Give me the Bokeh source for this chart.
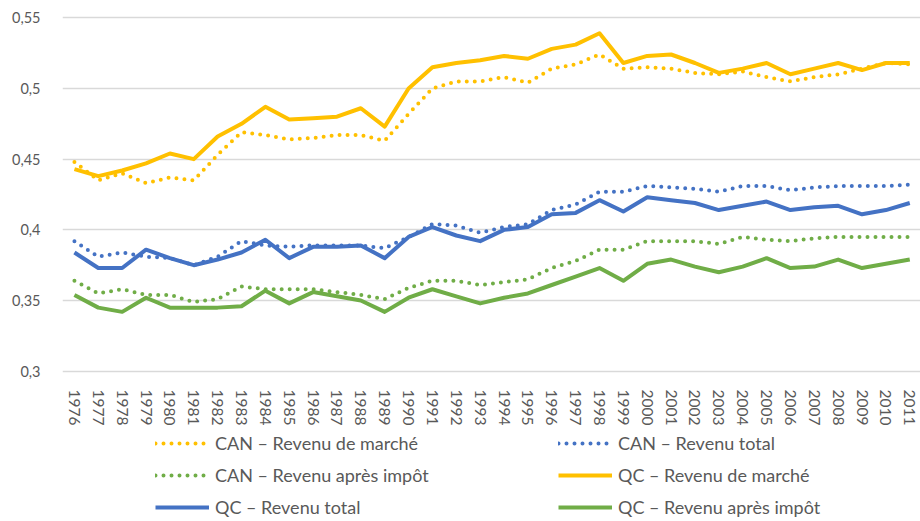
from bokeh.plotting import figure
from bokeh.layouts import column
from bokeh.models import Legend, LegendItem, FixedTicker, CustomJSTickFormatter, Range1d
from bokeh.embed import file_html
from bokeh.resources import INLINE

years = list(range(1976, 2012))

can_marche = [0.448, 0.435, 0.440, 0.433, 0.437, 0.435, 0.453, 0.469, 0.467, 0.464, 0.465, 0.467,
              0.467, 0.463, 0.482, 0.500, 0.505, 0.505, 0.508, 0.504, 0.514, 0.517, 0.524, 0.514,
              0.515, 0.514, 0.511, 0.510, 0.512, 0.508, 0.505, 0.508, 0.510, 0.514, 0.518, 0.517]
can_total = [0.392, 0.381, 0.384, 0.381, 0.380, 0.375, 0.381, 0.392, 0.389, 0.388, 0.389, 0.389,
             0.389, 0.387, 0.395, 0.404, 0.403, 0.398, 0.402, 0.404, 0.414, 0.418, 0.427, 0.427,
             0.431, 0.430, 0.429, 0.427, 0.431, 0.431, 0.428, 0.430, 0.431, 0.431, 0.431, 0.432]
can_apres = [0.364, 0.355, 0.358, 0.354, 0.354, 0.349, 0.351, 0.360, 0.358, 0.358, 0.358, 0.356,
             0.354, 0.351, 0.359, 0.364, 0.364, 0.361, 0.363, 0.365, 0.373, 0.378, 0.386, 0.386,
             0.392, 0.392, 0.392, 0.390, 0.395, 0.393, 0.392, 0.394, 0.395, 0.395, 0.395, 0.395]
qc_marche = [0.443, 0.438, 0.442, 0.447, 0.454, 0.450, 0.466, 0.475, 0.487, 0.478, 0.479, 0.480,
             0.486, 0.473, 0.500, 0.515, 0.518, 0.520, 0.523, 0.521, 0.528, 0.531, 0.539, 0.518,
             0.523, 0.524, 0.518, 0.511, 0.514, 0.518, 0.510, 0.514, 0.518, 0.513, 0.518, 0.518]
qc_total = [0.384, 0.373, 0.373, 0.386, 0.380, 0.375, 0.379, 0.384, 0.393, 0.380, 0.388, 0.388,
            0.389, 0.380, 0.395, 0.402, 0.396, 0.392, 0.400, 0.402, 0.411, 0.412, 0.421, 0.413,
            0.423, 0.421, 0.419, 0.414, 0.417, 0.420, 0.414, 0.416, 0.417, 0.411, 0.414, 0.419]
qc_apres = [0.354, 0.345, 0.342, 0.352, 0.345, 0.345, 0.345, 0.346, 0.357, 0.348, 0.356, 0.353,
            0.350, 0.342, 0.352, 0.358, 0.353, 0.348, 0.352, 0.355, 0.361, 0.367, 0.373, 0.364,
            0.376, 0.379, 0.374, 0.370, 0.374, 0.380, 0.373, 0.374, 0.379, 0.373, 0.376, 0.379]

y_ticks = [0.3, 0.35, 0.4, 0.45, 0.5, 0.55]

labels = ["CAN – Revenu de marché", "CAN – Revenu total", "CAN – Revenu après impôt",
          "QC – Revenu de marché", "QC – Revenu total", "QC – Revenu après impôt"]

YELLOW = "#FFC000"
BLUE = "#4472C4"
GREEN = "#70AD47"
TXT = "#595959"
FONT = "Lato"

series = [
    (can_marche, YELLOW, "dotted"),
    (can_total, BLUE, "dotted"),
    (can_apres, GREEN, "dotted"),
    (qc_marche, YELLOW, "solid"),
    (qc_total, BLUE, "solid"),
    (qc_apres, GREEN, "solid"),
]


def style_kwargs(col, style):
    if style == "dotted":
        return dict(line_color=col, line_width=4, line_dash="0 8", line_cap="round", line_join="round")
    return dict(line_color=col, line_width=4, line_join="round")


# ---- main chart ----
p = figure(frame_width=858, frame_height=362, output_backend="svg", toolbar_location=None,
           x_range=Range1d(1975.5, 2011.45), y_range=Range1d(0.297, 0.553),
           min_border_left=62, min_border_right=0, min_border_top=13, min_border_bottom=55)
p.outline_line_color = None
p.background_fill_color = "white"

for vals, col, style in series:
    p.line(years, vals, **style_kwargs(col, style))

p.xaxis.ticker = FixedTicker(ticks=years)
p.xaxis.major_label_orientation = "vertical"
p.xaxis.axis_line_color = None
p.xaxis.major_tick_line_color = None
p.xaxis.minor_tick_line_color = None
p.xaxis.major_label_standoff = 8
p.xaxis.major_label_text_font = FONT
p.xaxis.major_label_text_font_size = "15.5px"
p.xaxis.major_label_text_color = TXT

p.yaxis.ticker = FixedTicker(ticks=y_ticks)
p.yaxis.formatter = CustomJSTickFormatter(
    code="var s = tick.toFixed(2); s = s.replace(/0+$/, ''); return s.replace('.', ',');")
p.yaxis.axis_line_color = None
p.yaxis.major_tick_line_color = None
p.yaxis.minor_tick_line_color = None
p.yaxis.major_label_standoff = 16
p.yaxis.major_label_text_font = FONT
p.yaxis.major_label_text_font_size = "14.5px"
p.yaxis.major_label_text_color = TXT

p.xgrid.grid_line_color = None
p.ygrid.ticker = FixedTicker(ticks=y_ticks)
p.ygrid.grid_line_color = "#D9D9D9"
p.ygrid.grid_line_width = 1.5

# ---- legend strip (series drawn outside its visible range; only the legend shows) ----
pl = figure(width=920, height=91, output_backend="svg", toolbar_location=None,
            x_range=Range1d(0, 1), y_range=Range1d(0, 1),
            x_axis_location=None, y_axis_location=None,
            min_border_left=0, min_border_right=0, min_border_top=0, min_border_bottom=0)
pl.outline_line_color = None
pl.xgrid.grid_line_color = None
pl.ygrid.grid_line_color = None

items = []
for (vals, col, style), lab in zip(series, labels):
    r = pl.line(years, vals, **style_kwargs(col, style))
    items.append(LegendItem(label=lab, renderers=[r]))

legend = Legend(items=items, ncols=2, location=(93, 3), orientation="horizontal")
legend.border_line_color = None
legend.background_fill_alpha = 0
legend.padding = 0
legend.margin = 0
legend.glyph_width = 54
legend.glyph_height = 20
legend.label_standoff = 6
legend.spacing = 10
legend.label_width = 333
legend.label_text_font = FONT
legend.label_text_font_size = "18px"
legend.label_text_color = TXT
legend.label_height = 20
pl.add_layout(legend, "center")

layout = column(p, pl, spacing=0)
open("out.html", "w").write(file_html(layout, INLINE))
